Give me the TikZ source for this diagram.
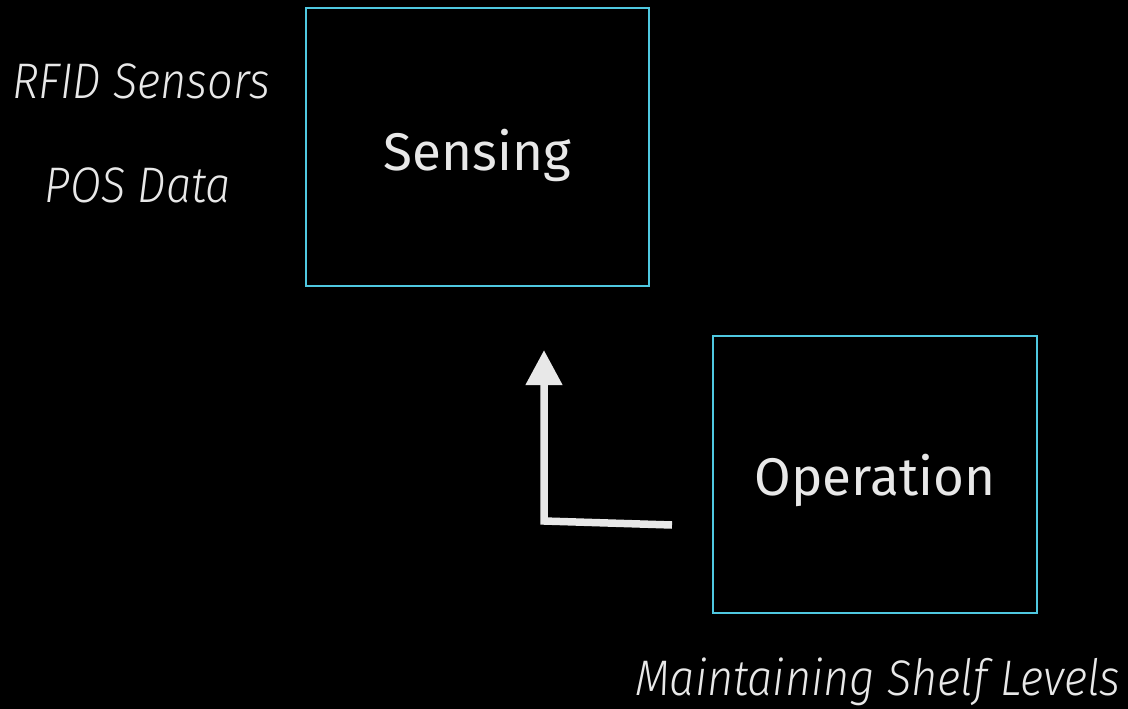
\documentclass[tikz,border=0pt]{standalone}
\usepackage{fontspec}
\setmainfont{Fira Sans}
\newfontfamily\boxfont{Fira Sans}
\newfontfamily\notefont{Fira Sans Light Italic}[FakeStretch=0.9]
\usetikzlibrary{arrows.meta}
\definecolor{boxcyan}{HTML}{4FC8E0}
\definecolor{fg}{HTML}{E8E8E8}
\begin{document}
\begin{tikzpicture}[x=1pt,y=-1pt,
  box/.style={draw=boxcyan,line width=2pt,minimum width=#1,inner sep=0pt,text=fg,font=\boxfont\fontsize{53}{60}\selectfont,text depth=0pt},
  note/.style={text=fg,font=\notefont\fontsize{50}{60}\selectfont,inner sep=0pt,anchor=base},
  flow/.style={draw=fg,line width=7.5pt,-{Triangle[length=35pt,width=35pt]}}]
\fill[black] (0,0) rectangle (1128,709);
\useasboundingbox (0,0) rectangle (1128,709);
\node[box=343pt,minimum height=278pt,text height=46pt] (sens) at (477.5,147) {Sensing};
\node[box=324pt,minimum height=277pt,text height=41pt] (op) at (875,474.5) {Operation};
\node[note] (rfid) at (141,99) {RFID Sensors};
\node[note] (pos) at (138,202) {POS Data};
\node[note] (shelf) at (878,695) {Maintaining Shelf Levels};
\coordinate (a) at (672,525);
\coordinate (b) at (544,521);
\coordinate (c) at (544,350);
\draw[flow] (a) -- (b) -- (c);
\end{tikzpicture}
\end{document}
